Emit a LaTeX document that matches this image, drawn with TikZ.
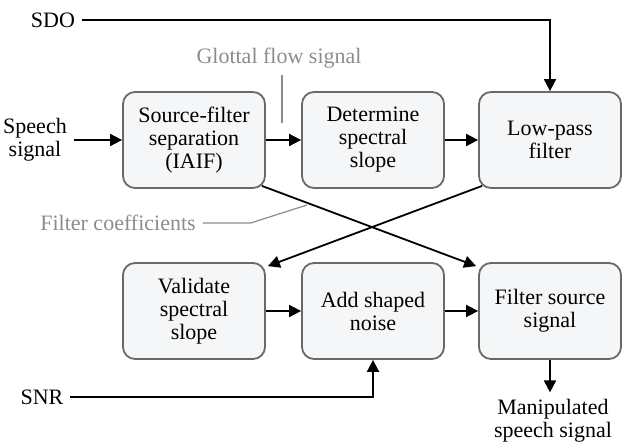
\documentclass[tikz,border=0pt]{standalone}
\usepackage{fontspec}
\setmainfont{LiberationSerif}[Extension=.ttf,UprightFont=*-Regular,BoldFont=*-Bold]
\usetikzlibrary{arrows.meta,calc}
\definecolor{boxline}{RGB}{105,105,105}
\definecolor{boxfill}{RGB}{245,246,248}
\definecolor{notegray}{RGB}{140,140,140}
\tikzset{
  procbox/.style={draw=boxline,fill=boxfill,line width=0.9pt,rounded corners=6pt,
    minimum width=71pt,minimum height=48pt,align=center,inner sep=1pt,
    font=\fontsize{11}{11.5}\selectfont},
  sig/.style={align=center,font=\fontsize{11}{11.5}\selectfont},
  note/.style={text=notegray,font=\fontsize{11}{11.5}\selectfont},
  flow/.style={-{Triangle[length=6pt,width=6pt]},line width=0.9pt},
  noteline/.style={draw=notegray,line width=0.6pt}
}

\begin{document}
\begin{tikzpicture}[x=0.5pt,y=-0.5pt]
  \useasboundingbox (0,0) rectangle (622,443);
  % upper row
  \node[procbox] (sep)   at (194,140) {Source-filter\\separation\\(IAIF)};
  \node[procbox] (slope) at (373,140) {Determine\\spectral\\slope};
  \node[procbox] (lpf)   at (550,140) {Low-pass\\filter};
  % lower row
  \node[procbox] (valid) at (194,311) {Validate\\spectral\\slope};
  \node[procbox] (noise) at (373,311) {Add shaped\\noise};
  \node[procbox] (filt)  at (550,311) {Filter source\\signal};
  % inputs and output
  \node[sig] (sdo)    at (53,20)   {SDO};
  \node[sig] (speech) at (35,140)  {Speech\\signal};
  \node[sig] (snr)    at (42,397)  {SNR};
  \node[sig] (out)    at (553,421) {Manipulated\\speech signal};
  % notes
  \node[note] (glot) at (279,58)  {Glottal flow signal};
  \node[note] (coef) at (118,223) {Filter coefficients};
  \coordinate (glotend) at (282,123);
  \coordinate (coefend) at (307,205);
  \draw[noteline] (glot.south -| glotend) -- (glotend);
  \draw[noteline] (coef.east) -- ++(48,0) -- (coefend);
  % signal flow
  \draw[flow] (speech.east) -- (sep.west);
  \draw[flow] (sep.east) -- (slope.west);
  \draw[flow] (slope.east) -- (lpf.west);
  \draw[flow] (sdo.east) -| (lpf.north);
  \draw[flow] ($(sep.south east)+(-4,-3)$) -- ($(filt.north west)+(-2,4)$);
  \draw[flow] ($(lpf.south west)+(4,-3)$) -- ($(valid.north east)+(2,4)$);
  \draw[flow] (valid.east) -- (noise.west);
  \draw[flow] (noise.east) -- (filt.west);
  \draw[flow] (snr.east) -| (noise.south);
  \draw[flow] (filt.south) -- (filt.south |- out.north);
\end{tikzpicture}
\end{document}
